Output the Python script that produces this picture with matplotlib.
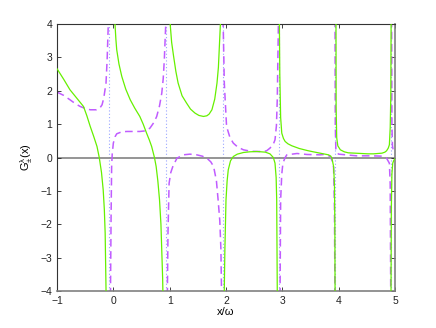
import numpy as np
import matplotlib
matplotlib.use("Agg")
import matplotlib.pyplot as plt

nan = np.nan

# Green solid curve (segments separated by NaN at poles)
green_x = [-1.0, -0.88, -0.77, -0.65, -0.53, -0.47, -0.41, -0.35, -0.29, -0.25, -0.21, -0.18, -0.16, -0.145, -0.13, -0.125, nan,
           0.025, 0.03, 0.045, 0.06, 0.10, 0.15, 0.22, 0.30, 0.38, 0.47, 0.53, 0.59, 0.64, 0.68, 0.73, 0.76, 0.79, 0.82, 0.845, 0.86, 0.875, 0.885, nan,
           1.005, 1.01, 1.035, 1.07, 1.11, 1.15, 1.22, 1.30, 1.37, 1.45, 1.52, 1.60, 1.66, 1.70, 1.75, 1.80, 1.84, 1.865, 1.88, 1.90, 1.905, nan,
           1.965, 1.97, 1.98, 2.00, 2.02, 2.04, 2.08, 2.13, 2.20, 2.31, 2.42, 2.55, 2.70, 2.78, 2.84, 2.87, 2.89, 2.90, 2.91, 2.915, nan,
           2.945, 2.955, 2.97, 2.99, 3.02, 3.05, 3.10, 3.17, 3.30, 3.44, 3.55, 3.67, 3.76, 3.82, 3.86, 3.88, 3.91, 3.925, 3.932, 3.937, nan,
           3.952, 3.955, 3.965, 3.985, 4.03, 4.10, 4.17, 4.28, 4.40, 4.52, 4.62, 4.70, 4.77, 4.82, 4.85, 4.88, 4.90, 4.915, 4.925, 4.932, nan,
           4.928, 4.935, 4.945, 4.96, 4.98, 5.0]
green_y = [2.66, 2.34, 2.03, 1.78, 1.53, 1.25, 0.93, 0.64, 0.33, 0.0, -0.45, -0.97, -1.55, -2.27, -4.0, -4.5, nan,
           4.5, 3.98, 3.55, 3.23, 2.80, 2.43, 2.05, 1.73, 1.48, 1.23, 1.0, 0.73, 0.52, 0.33, 0.0, -0.27, -0.7, -1.27, -2.0, -2.77, -3.6, -4.5, nan,
           4.5, 3.98, 3.45, 3.03, 2.58, 2.23, 1.85, 1.63, 1.45, 1.33, 1.26, 1.23, 1.25, 1.30, 1.43, 1.75, 2.23, 2.7, 3.23, 3.98, 4.5, nan,
           -4.5, -3.97, -2.77, -1.27, -0.7, -0.37, -0.1, 0.03, 0.1, 0.15, 0.17, 0.18, 0.16, 0.11, 0.0, -0.17, -0.6, -1.27, -3.97, -4.5, nan,
           4.5, 2.5, 1.2, 0.73, 0.57, 0.48, 0.41, 0.35, 0.27, 0.21, 0.17, 0.13, 0.1, 0.08, 0.04, -0.02, -0.27, -0.8, -2.0, -4.5, nan,
           4.5, 1.5, 0.6, 0.35, 0.23, 0.17, 0.14, 0.13, 0.12, 0.11, 0.11, 0.12, 0.13, 0.16, 0.2, 0.28, 0.38, 0.9, 1.8, 4.5, nan,
           -4.5, -1.5, -0.5, -0.17, -0.08, -0.04]

# Purple dashed curve
purple_x = [-1.0, -0.88, -0.77, -0.68, -0.59, -0.50, -0.41, -0.30, -0.24, -0.20, -0.17, -0.13, -0.11, -0.09, -0.085, nan,
            -0.055, -0.05, -0.04, -0.03, -0.02, 0.0, 0.03, 0.06, 0.15, 0.24, 0.47, 0.58, 0.65, 0.72, 0.77, 0.82, 0.86, 0.885, 0.905, 0.93, 0.935, nan,
            0.955, 0.96, 0.97, 0.99, 1.02, 1.06, 1.13, 1.24, 1.36, 1.48, 1.58, 1.66, 1.73, 1.78, 1.83, 1.86, 1.89, 1.91, 1.92, 1.925, nan,
            1.945, 1.95, 1.97, 2.01, 2.07, 2.13, 2.21, 2.31, 2.43, 2.55, 2.65, 2.72, 2.78, 2.84, 2.87, 2.895, 2.91, 2.93, 2.935, nan,
            2.955, 2.96, 2.97, 2.99, 3.01, 3.05, 3.08, 3.26, 3.44, 3.67, 3.73, 3.80, 3.85, 3.89, 3.91, 3.925, 3.935, nan,
            3.935, 3.94, 3.95, 3.97, 4.0, 4.32, 4.6, 4.77, 4.85, 4.90, 4.915, 4.925, nan,
            4.94, 4.945, 4.955, 4.97, 5.0]
purple_y = [1.96, 1.86, 1.73, 1.62, 1.53, 1.47, 1.43, 1.43, 1.48, 1.58, 1.78, 2.23, 2.93, 3.98, 4.5, nan,
            -4.5, -3.97, -1.77, -0.27, 0.1, 0.43, 0.62, 0.71, 0.77, 0.78, 0.78, 0.8, 0.88, 1.05, 1.23, 1.55, 1.93, 2.35, 2.93, 3.98, 4.5, nan,
            -4.5, -3.97, -2.27, -0.77, -0.45, -0.25, -0.02, 0.08, 0.1, 0.08, 0.04, -0.02, -0.13, -0.27, -0.7, -1.27, -1.9, -2.77, -3.97, -4.5, nan,
            4.5, 3.98, 2.23, 0.93, 0.6, 0.43, 0.31, 0.23, 0.19, 0.18, 0.18, 0.2, 0.28, 0.4, 0.53, 0.95, 1.73, 3.98, 4.5, nan,
            -4.5, -3.97, -1.27, -0.5, -0.17, 0.0, 0.08, 0.12, 0.09, 0.08, 0.09, 0.07, 0.03, -0.12, -0.3, -1.5, -4.5, nan,
            4.5, 1.0, 0.25, 0.14, 0.1, 0.05, 0.05, 0.04, -0.02, -0.17, -0.8, -4.5, nan,
            4.5, 1.0, 0.35, 0.2, 0.12]

# Dotted vertical guide lines (pole positions)
pole_x = [-0.07, 0.935, 1.94, 2.94, 3.94, 4.93]

x_ticks = [-1, 0, 1, 2, 3, 4, 5]
y_ticks = [-4, -3, -2, -1, 0, 1, 2, 3, 4]

plt.rcParams['font.family'] = ['Liberation Sans', 'DejaVu Sans']
plt.rcParams['mathtext.fontset'] = 'custom'
plt.rcParams['mathtext.rm'] = 'Liberation Sans'
plt.rcParams['mathtext.it'] = 'Liberation Sans'

fig = plt.figure(figsize=(4.36, 3.28), dpi=100)
ax = fig.add_axes([57/436, 1 - 291/328, (395 - 57)/436, (291 - 24)/328])

for px in pole_x:
    ax.axvline(px, color='#9aa6ff', linestyle=(0, (1, 2)), linewidth=0.8, zorder=1)
ax.axhline(0, color='#8c8c8c', linewidth=1.3, zorder=1)

ax.plot(green_x, green_y, color='#66f000', linewidth=0.9, zorder=3)
ax.plot(purple_x, purple_y, color='#c05cff', linewidth=1.1, linestyle=(0, (5, 3)), zorder=2)

ax.set_xlim(-1, 5)
ax.set_ylim(-4, 4)
ax.set_xticks(x_ticks)
ax.set_yticks(y_ticks)
ax.set_xticklabels([str(t).replace('-', '\u2212') for t in x_ticks])
ax.set_yticklabels([str(t).replace('-', '\u2212') for t in y_ticks])
ax.tick_params(direction='in', length=3, width=0.6, labelsize=7.5, top=True, right=True, colors='#222222')

for s in ['top', 'left']:
    ax.spines[s].set_color('#333333')
    ax.spines[s].set_linewidth(0.8)
for s in ['bottom', 'right']:
    ax.spines[s].set_color('#808080')
    ax.spines[s].set_linewidth(1.2)

ax.set_xlabel('x/\u03c9', fontsize=8, labelpad=1)
ax.set_ylabel(r'$\mathrm{G}^{\lambda}_{\pm}\mathrm{(x)}$', fontsize=8, labelpad=4)

fig.savefig('out.png', dpi=100)
